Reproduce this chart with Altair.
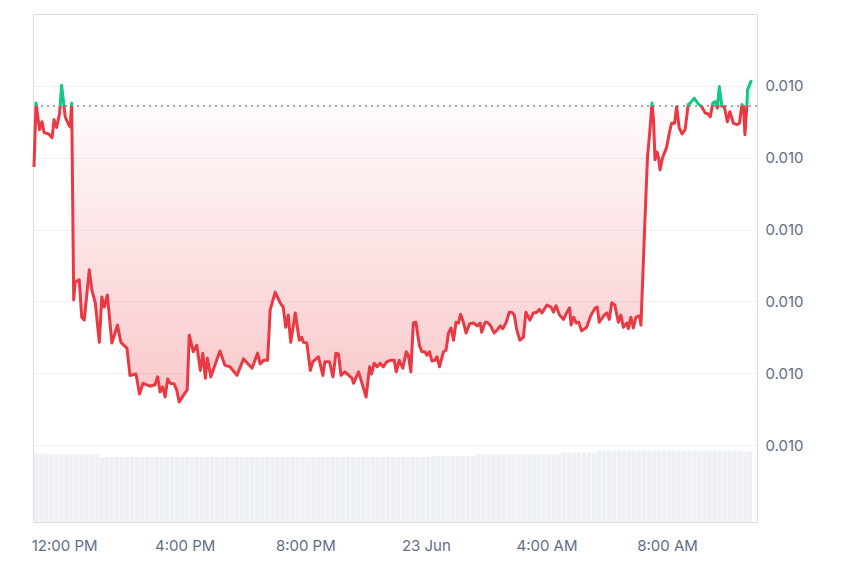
import altair as alt
import pandas as pd

# ---- price series (minutes after 22 Jun 11:00, price) ----
minutes = [0, 4, 11, 16, 20, 29, 36, 40, 45, 51,
           55, 62, 69, 72, 75, 79, 82, 90, 95, 100,
           110, 115, 122, 130, 135, 140, 146, 155, 166, 173,
           185, 191, 203, 210, 217, 231, 241, 246, 251, 256,
           261, 266, 271, 279, 284, 289, 299, 305, 309, 317,
           324, 331, 336, 341, 345, 352, 360, 370, 380, 390,
           404, 417, 434, 445, 450, 457, 465, 470, 480, 490,
           496, 501, 506, 511, 520, 528, 533, 536, 543, 550,
           555, 566, 575, 579, 588, 595, 601, 606, 611, 619,
           633, 636, 646, 661, 668, 672, 677, 683, 689, 695,
           702, 709, 717, 721, 727, 734, 741, 745, 750, 755,
           760, 767, 772, 778, 782, 787, 792, 798, 802, 807,
           815, 820, 825, 830, 835, 840, 845, 849, 855, 860,
           867, 875, 882, 888, 891, 898, 902, 908, 916, 924,
           928, 933, 940, 946, 951, 956, 961, 967, 974, 979,
           987, 994, 1001, 1006, 1011, 1021, 1029, 1034, 1039, 1046,
           1054, 1060, 1066, 1069, 1074, 1079, 1084, 1090, 1100, 1108,
           1117, 1121, 1125, 1135, 1140, 1145, 1150, 1156, 1163, 1168,
           1173, 1180, 1183, 1188, 1193, 1198, 1205, 1208, 1216, 1221,
           1226, 1230, 1233, 1236, 1240, 1243, 1246, 1251, 1259, 1265,
           1269, 1275, 1279, 1284, 1290, 1296, 1302, 1306, 1314, 1322,
           1329, 1336, 1340, 1346, 1351, 1356, 1360, 1364, 1369, 1374,
           1380, 1385, 1392, 1399, 1404, 1409, 1412, 1415, 1419, 1420,
           1428]

prices = [0.0100387, 0.0100476, 0.0100439, 0.0100450, 0.0100435, 0.0100433, 0.0100428, 0.0100453, 0.0100442, 0.0100462,
          0.0100501, 0.0100457, 0.0100446, 0.0100443, 0.0100476, 0.0100202, 0.0100227, 0.0100230, 0.0100178, 0.0100174,
          0.0100244, 0.0100216, 0.0100198, 0.0100143, 0.0100206, 0.0100192, 0.0100209, 0.0100142, 0.0100167, 0.0100143,
          0.0100135, 0.0100097, 0.0100099, 0.0100071, 0.0100086, 0.0100082, 0.0100084, 0.0100095, 0.0100074, 0.0100081,
          0.0100067, 0.0100092, 0.0100086, 0.0100085, 0.0100077, 0.0100060, 0.0100071, 0.0100077, 0.0100153, 0.0100130,
          0.0100139, 0.0100104, 0.0100128, 0.0100093, 0.0100121, 0.0100095, 0.0100111, 0.0100131, 0.0100111, 0.0100109,
          0.0100097, 0.0100120, 0.0100107, 0.0100128, 0.0100113, 0.0100118, 0.0100118, 0.0100188, 0.0100213, 0.0100198,
          0.0100192, 0.0100164, 0.0100181, 0.0100143, 0.0100184, 0.0100146, 0.0100150, 0.0100143, 0.0100142, 0.0100104,
          0.0100116, 0.0100123, 0.0100097, 0.0100116, 0.0100116, 0.0100095, 0.0100128, 0.0100127, 0.0100097, 0.0100102,
          0.0100093, 0.0100086, 0.0100102, 0.0100067, 0.0100109, 0.0100099, 0.0100114, 0.0100109, 0.0100114, 0.0100109,
          0.0100116, 0.0100118, 0.0100118, 0.0100102, 0.0100118, 0.0100107, 0.0100130, 0.0100125, 0.0100102, 0.0100170,
          0.0100171, 0.0100139, 0.0100130, 0.0100130, 0.0100125, 0.0100130, 0.0100117, 0.0100118, 0.0100123, 0.0100109,
          0.0100130, 0.0100132, 0.0100156, 0.0100163, 0.0100146, 0.0100171, 0.0100170, 0.0100182, 0.0100170, 0.0100156,
          0.0100169, 0.0100170, 0.0100166, 0.0100170, 0.0100157, 0.0100171, 0.0100171, 0.0100167, 0.0100156, 0.0100162,
          0.0100166, 0.0100162, 0.0100171, 0.0100185, 0.0100185, 0.0100181, 0.0100160, 0.0100146, 0.0100150, 0.0100185,
          0.0100174, 0.0100184, 0.0100185, 0.0100189, 0.0100184, 0.0100195, 0.0100192, 0.0100185, 0.0100194, 0.0100181,
          0.0100175, 0.0100184, 0.0100191, 0.0100167, 0.0100178, 0.0100170, 0.0100171, 0.0100159, 0.0100164, 0.0100180,
          0.0100191, 0.0100192, 0.0100171, 0.0100181, 0.0100184, 0.0100175, 0.0100198, 0.0100195, 0.0100171, 0.0100181,
          0.0100164, 0.0100170, 0.0100162, 0.0100178, 0.0100163, 0.0100178, 0.0100180, 0.0100167, 0.0100313, 0.0100400,
          0.0100439, 0.0100476, 0.0100453, 0.0100397, 0.0100408, 0.0100400, 0.0100383, 0.0100400, 0.0100414, 0.0100436,
          0.0100448, 0.0100448, 0.0100471, 0.0100442, 0.0100433, 0.0100439, 0.0100474, 0.0100476, 0.0100483, 0.0100475,
          0.0100471, 0.0100462, 0.0100462, 0.0100457, 0.0100476, 0.0100478, 0.0100469, 0.0100499, 0.0100472, 0.0100471,
          0.0100450, 0.0100464, 0.0100448, 0.0100446, 0.0100448, 0.0100474, 0.0100471, 0.0100432, 0.0100474, 0.0100494,
          0.0100508]

base_price = 0.0100472

# ---- volume bars (10-minute bins, millions) ----
volumes = [1.37, 1.37, 1.37, 1.36, 1.36, 1.36, 1.36, 1.36, 1.35, 1.35, 1.35, 1.35, 1.35,
           1.30, 1.30, 1.30, 1.30, 1.30, 1.30, 1.30, 1.30, 1.30, 1.30, 1.30,
           1.30, 1.30, 1.30, 1.30, 1.30, 1.30, 1.30, 1.30, 1.30, 1.30, 1.30,
           1.30, 1.30, 1.30, 1.30, 1.30, 1.30, 1.30, 1.30, 1.30, 1.30, 1.30,
           1.30, 1.30, 1.30, 1.30, 1.30, 1.30, 1.30, 1.30, 1.30, 1.30, 1.30,
           1.30, 1.30, 1.30, 1.30, 1.30, 1.30, 1.30, 1.30, 1.30, 1.30, 1.30,
           1.30, 1.30, 1.30, 1.30, 1.30, 1.30, 1.30, 1.30, 1.30, 1.30, 1.30,
           1.32, 1.32, 1.32, 1.32, 1.32, 1.32, 1.32, 1.32, 1.32,
           1.36, 1.36, 1.36, 1.36, 1.36, 1.36, 1.36, 1.36, 1.36, 1.36, 1.36, 1.36, 1.36, 1.36, 1.36, 1.36, 1.36,
           1.39, 1.39, 1.39, 1.39, 1.39, 1.39, 1.39,
           1.43, 1.43, 1.43, 1.43, 1.43, 1.43, 1.43, 1.43, 1.43, 1.43,
           1.43, 1.43, 1.43, 1.43, 1.43, 1.43, 1.43, 1.43, 1.43, 1.43,
           1.43, 1.43, 1.43, 1.43, 1.43, 1.43, 1.43, 1.43, 1.43,
           1.40, 1.42]

y_ticks = [0.01000, 0.01001, 0.01002, 0.01003, 0.01004, 0.01005]

RED = "#ea3943"
GREEN = "#16c784"
LABEL = "#616e85"
GRID = "#eff2f5"

start = pd.Timestamp("2024-06-22 11:00")
price_df = pd.DataFrame({
    "time": start + pd.to_timedelta(minutes, unit="m"),
    "price": prices,
})
bar_start = [10 * i for i in range(len(volumes))]
vol_df = pd.DataFrame({
    "time": start + pd.to_timedelta(bar_start, unit="m"),
    "end": start + pd.to_timedelta([m + 9 for m in bar_start], unit="m"),
    "volume": volumes,
})

pmax, pmin = max(prices), min(prices)
f = (pmax - base_price) / (pmax - pmin)

x_scale = alt.Scale(domain=[alt.DateTime(year=2024, month=6, date=22, hours=10, minutes=58),
                            alt.DateTime(year=2024, month=6, date=23, hours=10, minutes=59)])
x_axis = alt.Axis(
    values=[alt.DateTime(year=2024, month=6, date=22, hours=12),
            alt.DateTime(year=2024, month=6, date=22, hours=16),
            alt.DateTime(year=2024, month=6, date=22, hours=20),
            alt.DateTime(year=2024, month=6, date=23, hours=0),
            alt.DateTime(year=2024, month=6, date=23, hours=4),
            alt.DateTime(year=2024, month=6, date=23, hours=8)],
    labelExpr="hours(datum.value) == 0 ? timeFormat(datum.value, '%-d %b') : timeFormat(datum.value, '%-I:%M %p')",
    grid=False, ticks=False, domain=False, labelPadding=16,
    labelFontSize=15, labelColor=LABEL, title=None, labelFlush=False,
)
X = alt.X("time:T", scale=x_scale, axis=x_axis)

y_scale = alt.Scale(domain=[0.0099893, 0.01006], nice=False, zero=False)
y_axis = alt.Axis(orient="right", values=y_ticks, format=".3f", grid=True, gridColor=GRID,
                  ticks=False, domain=False, labelColor=LABEL, labelFontSize=15,
                  labelPadding=8, title=None)
Y = alt.Y("price:Q", scale=y_scale, axis=y_axis)

vol = alt.Chart(vol_df).mark_bar(color="#edf0f4").encode(
    x=X,
    x2="end:T",
    y=alt.Y("volume:Q", scale=alt.Scale(domain=[0, 10.16], nice=False), axis=None),
    y2=alt.datum(0),
)

area_grad = alt.LinearGradient(
    gradient="linear", x1=0, x2=0, y1=0, y2=1,
    stops=[alt.GradientStop(color="rgba(22,199,132,0.22)", offset=0),
           alt.GradientStop(color="rgba(22,199,132,0.08)", offset=f),
           alt.GradientStop(color="rgba(234,57,67,0.02)", offset=f),
           alt.GradientStop(color="rgba(234,57,67,0.28)", offset=1)],
)
line_grad = alt.LinearGradient(
    gradient="linear", x1=0, x2=0, y1=0, y2=1,
    stops=[alt.GradientStop(color=GREEN, offset=0),
           alt.GradientStop(color=GREEN, offset=f),
           alt.GradientStop(color=RED, offset=f),
           alt.GradientStop(color=RED, offset=1)],
)

area = alt.Chart(price_df).mark_area(fill=area_grad).encode(
    x=X, y=Y, y2=alt.datum(base_price),
)
rule = alt.Chart(price_df).mark_rule(color="#a1a7b3", strokeDash=[2, 4], strokeWidth=1.5).encode(
    y=alt.datum(base_price, scale=y_scale, axis=y_axis),
)
line = alt.Chart(price_df).mark_line(stroke=line_grad, strokeWidth=3, strokeJoin="round").encode(
    x=X, y=Y,
)

price_layer = alt.layer(area, rule, line)

chart = alt.layer(vol, price_layer).resolve_scale(y="independent").properties(
    width=724, height=508,
    padding={"left": 23, "top": 6, "right": 10, "bottom": 10},
).configure_view(stroke="#eceef2", strokeWidth=1).configure(font="Inter")

chart.save("out.html", embed_options={"renderer": "svg", "actions": False})
